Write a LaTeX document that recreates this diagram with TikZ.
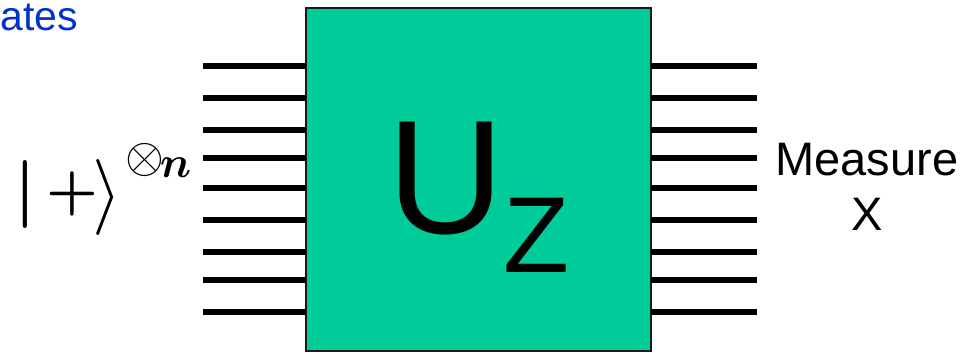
\documentclass[tikz,border=0pt]{standalone}
\usepackage{graphicx}
\usepackage{bm}
\usepackage{fontspec}
\setmainfont{Liberation Sans}
\definecolor{boxfill}{HTML}{00CC99}
\definecolor{titleblue}{HTML}{0033CC}
\begin{document}
\begin{tikzpicture}[x=1pt,y=-1pt,
  wire/.style={line width=6pt},
  txt/.style={inner sep=0pt,outer sep=0pt,anchor=base west}]
\useasboundingbox (0,0) rectangle (978,353);
\clip (0,0) rectangle (978,353);
\node[draw=black!90,line width=2pt,fill=boxfill,minimum width=345pt,minimum height=343pt,inner sep=0pt,outer sep=0pt,anchor=north west] (U) at (306,8) {};
\node[txt,font=\fontsize{162}{162}\selectfont] (ulabel) at (387,233) {U};
\node[txt,font=\fontsize{108}{108}\selectfont] (zlabel) at (503,272) {Z};
\foreach \i/\y in {1/66,2/98,3/130,4/158,5/188,6/220,7/252,8/280,9/312}{
  \coordinate (l\i) at (203,\y);
  \coordinate (r\i) at (757,\y);
  \draw[wire] (l\i) -- (l\i -| U.west);
  \draw[wire] (U.east |- r\i) -- (r\i);
}
\node[inner sep=0pt,anchor=base,font=\fontsize{47}{47}\selectfont] (meas) at (867,175) {Measure};
\node[inner sep=0pt,anchor=base,font=\fontsize{47}{47}\selectfont] (mx) at (867,230) {X};
\node[inner sep=0pt,anchor=base east,text=titleblue,font=\fontsize{41}{41}\selectfont] (title) at (78,31) {ates};
\node[txt] (ketbar) at (14,211) {\scalebox{6.8}{$\bm{|}$}};
\node[txt] (ketplus) at (46,208.5) {\scalebox{5.8}{$\bm{+}$}};
\node[txt] (ketangle) at (92,216) {\scalebox{7.6}{$\rangle$}};
\node[txt] (pow) at (125,177) {\raisebox{4.5pt}{\scalebox{5.0}{$\otimes$}}\hspace{-4pt}\scalebox{4.4}{$\bm{n}$}};
\end{tikzpicture}
\end{document}
